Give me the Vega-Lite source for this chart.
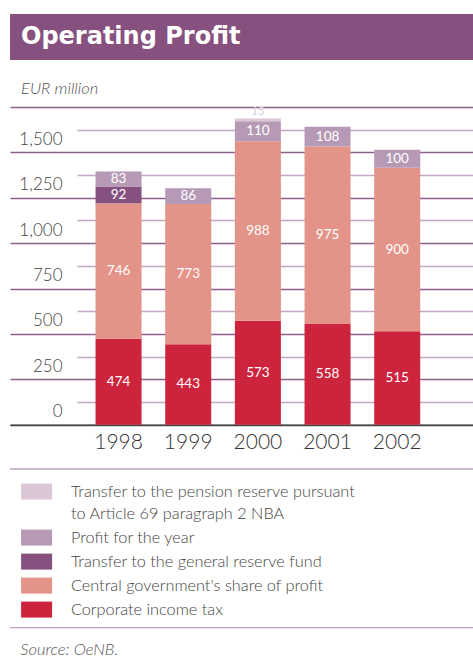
{
  "$schema": "https://vega.github.io/schema/vega-lite/v6.json",
  "padding": {"left": 9, "top": 14, "right": 0, "bottom": 0},
  "background": "white",
  "columns": 1,
  "bounds": "full",
  "spacing": 20,
  "config": {"view": {"stroke": null}, "font": "Lato"},
  "datasets": {
    "profit": [
      {"year": "1998", "category": "Corporate income tax", "value": 474},
      {"year": "1998", "category": "Central government's share of profit", "value": 746},
      {"year": "1998", "category": "Transfer to the general reserve fund", "value": 92},
      {"year": "1998", "category": "Profit for the year", "value": 83},
      {"year": "1999", "category": "Corporate income tax", "value": 443},
      {"year": "1999", "category": "Central government's share of profit", "value": 773},
      {"year": "1999", "category": "Profit for the year", "value": 86},
      {"year": "2000", "category": "Corporate income tax", "value": 573},
      {"year": "2000", "category": "Central government's share of profit", "value": 988},
      {"year": "2000", "category": "Profit for the year", "value": 110},
      {"year": "2000", "category": "Transfer to the pension reserve pursuant to Article 69 paragraph 2 NBA", "value": 15},
      {"year": "2001", "category": "Corporate income tax", "value": 558},
      {"year": "2001", "category": "Central government's share of profit", "value": 975},
      {"year": "2001", "category": "Profit for the year", "value": 108},
      {"year": "2002", "category": "Corporate income tax", "value": 515},
      {"year": "2002", "category": "Central government's share of profit", "value": 900},
      {"year": "2002", "category": "Profit for the year", "value": 100}
    ]
  },
  "concat": [
    {
      "width": 464,
      "height": 46,
      "view": {"fill": "#87517f", "stroke": null},
      "data": {"values": [{"t": "Operating Profit"}]},
      "mark": {"type": "text", "align": "left", "baseline": "middle", "x": 11, "y": 23, "font": "DejaVu Sans", "fontWeight": "bold", "fontSize": 24, "color": "white"},
      "encoding": {"text": {"field": "t"}}
    },
    {
      "columns": 1,
      "spacing": 15,
      "bounds": "full",
      "resolve": {"scale": {"color": "independent"}, "legend": {"color": "independent"}},
      "concat": [
        {
          "width": 464,
          "height": 317.7,
          "title": {"text": "EUR million", "anchor": "start", "frame": "bounds", "dx": 11, "offset": 9, "fontSize": 16.5, "fontStyle": "italic", "fontWeight": 300, "color": "#555555", "font": "Lato"},
          "data": {"name": "profit"},
          "transform": [
            {"calculate": "indexof(['Corporate income tax', 'Central government\\'s share of profit', 'Transfer to the general reserve fund', 'Profit for the year', 'Transfer to the pension reserve pursuant to Article 69 paragraph 2 NBA'], datum.category)", "as": "ord"},
            {"stack": "value", "groupby": ["year"], "sort": [{"field": "ord", "order": "ascending"}], "as": ["v0", "v1"]},
            {"calculate": "(datum.v0 + datum.v1) / 2", "as": "mid"}
          ],
          "resolve": {"axis": {"y": "independent"}},
          "layer": [
            {
              "data": {"values": [{"g": 125}, {"g": 375}, {"g": 625}, {"g": 875}, {"g": 1125}, {"g": 1375}, {"g": 1625}]},
              "mark": {"type": "point", "opacity": 0},
              "encoding": {
                "y": {
                  "field": "g", "type": "quantitative", "title": null,
                  "axis": {
                    "orient": "right",
                    "values": [125, 375, 625, 875, 1125, 1375, 1625],
                    "grid": false,
                    "domain": false,
                    "labels": false,
                    "ticks": true,
                    "tickSize": -397,
                    "tickWidth": 1.3,
                    "tickColor": "#c4a6c4",
                    "title": null
                  }
                }
              }
            },
            {
              "mark": {"type": "bar"},
              "encoding": {
                "x": {
                  "field": "year", "type": "ordinal",
                  "scale": {"paddingInner": 0.3394, "paddingOuter": 1.075, "align": 0.614},
                  "axis": {"title": null, "labelAngle": 0, "ticks": false, "domain": true, "domainColor": "#444444", "domainWidth": 1.5, "labelFontSize": 21, "labelFontWeight": 300, "labelColor": "#333333", "labelPadding": 7, "labelFont": "Lato"}
                },
                "y": {
                  "field": "v1", "type": "quantitative",
                  "scale": {"domain": [0, 1750], "nice": false},
                  "axis": {
                    "title": null,
                    "orient": "left",
                    "values": [0, 250, 500, 750, 1000, 1250, 1500, 1750],
                    "format": ",d",
                    "labelExpr": "datum.value == 1750 ? '' : datum.label",
                    "grid": true,
                    "gridColor": {"condition": {"test": "datum.value === 0", "value": "#444444"}, "value": "#8e5f8e"},
                    "gridWidth": 1.3,
                    "ticks": false,
                    "tickSize": 0,
                    "domain": false,
                    "labelPadding": -52,
                    "labelOffset": -13,
                    "labelFontSize": 17,
                    "labelFontWeight": 300,
                    "labelColor": "#444444",
                    "labelFont": "Lato"
                  }
                },
                "y2": {"field": "v0"},
                "color": {
                  "field": "category", "type": "nominal",
                  "scale": {
                    "domain": ["Transfer to the pension reserve pursuant to Article 69 paragraph 2 NBA", "Profit for the year", "Transfer to the general reserve fund", "Central government's share of profit", "Corporate income tax"],
                    "range": ["#d9c7d8", "#b69ab5", "#87517f", "#e39387", "#cd243e"]
                  },
                  "legend": null
                }
              }
            },
            {
              "transform": [{"filter": "datum.category != 'Transfer to the pension reserve pursuant to Article 69 paragraph 2 NBA'"}],
              "mark": {"type": "text", "color": "white", "fontSize": 13.5, "baseline": "middle", "font": "Lato"},
              "encoding": {
                "x": {"field": "year", "type": "ordinal"},
                "y": {"field": "mid", "type": "quantitative", "title": null, "axis": null},
                "text": {"field": "value", "type": "quantitative"}
              }
            },
            {
              "transform": [{"filter": "datum.category == 'Transfer to the pension reserve pursuant to Article 69 paragraph 2 NBA'"}],
              "mark": {"type": "text", "color": "#d9c7d8", "fontSize": 11, "baseline": "bottom", "dy": -1.5, "font": "Lato"},
              "encoding": {
                "x": {"field": "year", "type": "ordinal"},
                "y": {"field": "v1", "type": "quantitative", "title": null, "axis": null},
                "text": {"field": "value", "type": "quantitative"}
              }
            }
          ]
        },
        {
          "width": 464,
          "height": 158.7,
          "title": {"text": "Source: OeNB.", "orient": "bottom", "anchor": "start", "frame": "bounds", "dx": 11, "offset": 14, "fontSize": 16.5, "fontStyle": "italic", "fontWeight": 300, "color": "#555555", "font": "Lato"},
          "layer": [
            {
              "data": {"values": [{"edge": "top"}, {"edge": "bottom"}]},
              "mark": {"type": "rule", "color": "#bba0bd", "strokeWidth": 1.3},
              "encoding": {"y": {"field": "edge", "type": "ordinal", "scale": {"type": "point", "domain": ["top", "bottom"], "padding": 0}, "axis": null}}
            },
            {
              "data": {"name": "profit"},
              "mark": {"type": "square", "opacity": 0, "filled": true},
              "encoding": {
                "color": {
                  "field": "category", "type": "nominal",
                  "scale": {
                    "domain": ["Transfer to the pension reserve pursuant to Article 69 paragraph 2 NBA", "Profit for the year", "Transfer to the general reserve fund", "Central government's share of profit", "Corporate income tax"],
                    "range": ["#d9c7d8", "#b69ab5", "#87517f", "#e39387", "#cd243e"]
                  },
                  "legend": {
                    "orient": "none",
                    "legendX": 11.6,
                    "legendY": 7.6,
                    "title": null,
                    "symbolType": "M-1.0438,-0.5387H1.0438V0.5387H-1.0438Z",
                    "symbolSize": 882,
                    "symbolStrokeWidth": 0,
                    "symbolOpacity": 1,
                    "labelFontSize": 16.3,
                    "labelFontWeight": 300,
                    "labelColor": "#444444",
                    "labelFont": "Lato",
                    "labelOffset": 19.3,
                    "rowPadding": 0,
                    "labelLimit": 420,
                    "labelExpr": "datum.label == 'Transfer to the pension reserve pursuant to Article 69 paragraph 2 NBA' ? ['Transfer to the pension reserve pursuant', 'to Article 69 paragraph 2 NBA'] : datum.label",
                    "encode": {"labels": {"update": {"lineHeight": {"value": 22.5}}}}
                  }
                }
              }
            }
          ]
        }
      ]
    }
  ]
}
